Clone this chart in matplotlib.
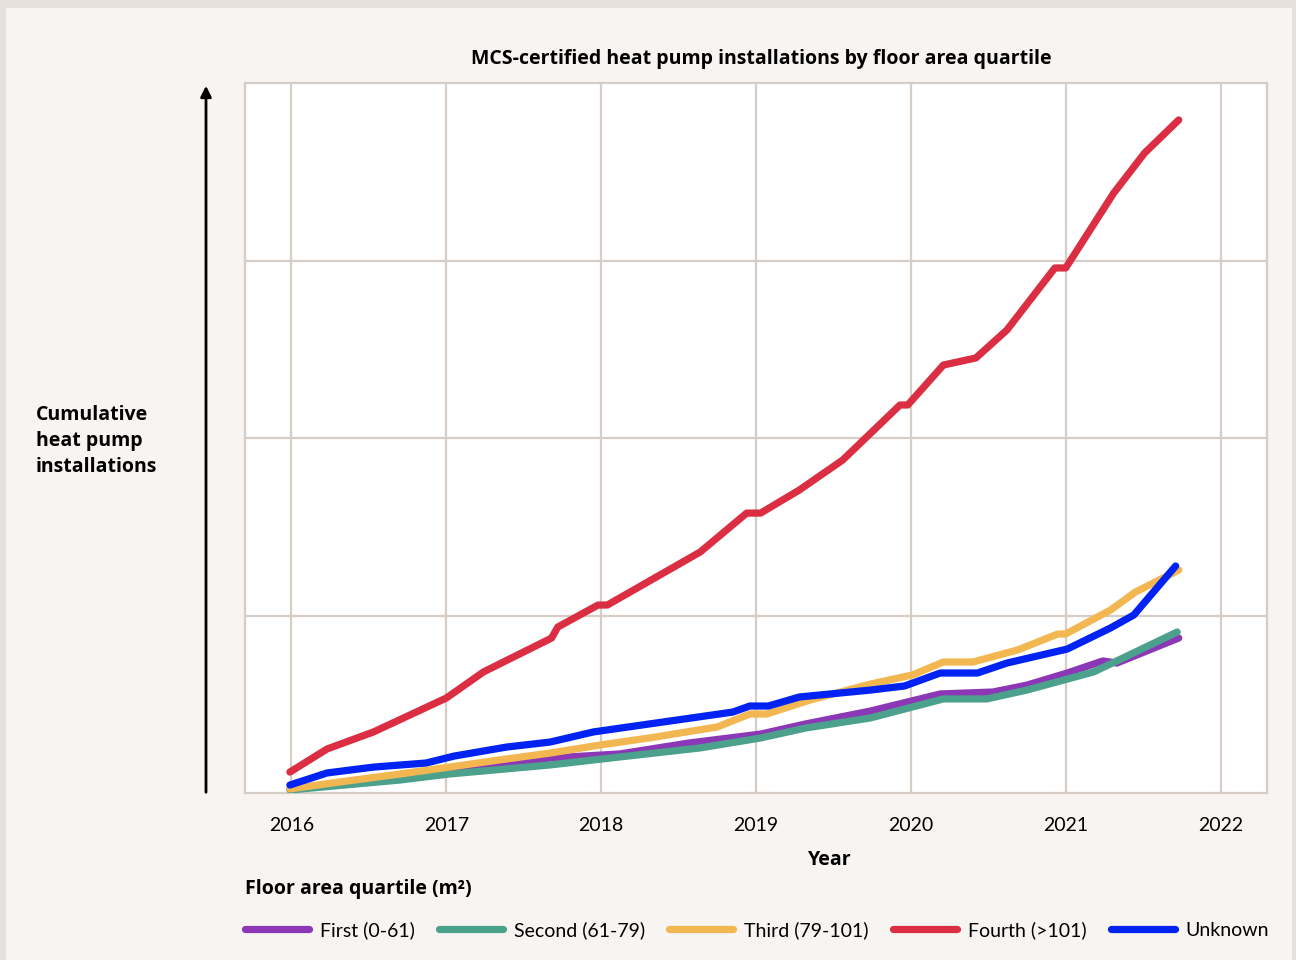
import matplotlib
matplotlib.use("Agg")
import matplotlib.pyplot as plt
from matplotlib.patches import Rectangle, FancyArrowPatch

plt.rcParams['font.family'] = ['Lato', 'DejaVu Sans']

# ---------------- data (years, cumulative installations in relative units) ----------------
first_x = [2015.99, 2016.70, 2017.02, 2017.67, 2018.12, 2018.57, 2019.03, 2019.32, 2019.74,
           2020.19, 2020.53, 2020.75, 2021.01, 2021.24, 2021.33, 2021.73]
first_y = [0.023, 0.090, 0.113, 0.197, 0.220, 0.282, 0.332, 0.389, 0.462,
           0.558, 0.569, 0.608, 0.676, 0.744, 0.732, 0.873]

second_x = [2015.99, 2016.70, 2017.02, 2017.67, 2018.12, 2018.64, 2019.03, 2019.32, 2019.74,
            2020.21, 2020.49, 2020.75, 2021.18, 2021.33, 2021.72]
second_y = [0.017, 0.073, 0.107, 0.158, 0.203, 0.254, 0.310, 0.366, 0.423,
            0.530, 0.530, 0.580, 0.682, 0.744, 0.907]

third_x = [2015.99, 2016.31, 2016.70, 2017.02, 2017.34, 2017.67, 2017.99, 2018.31, 2018.75,
           2018.96, 2019.07, 2019.35, 2019.74, 2020.01, 2020.21, 2020.40, 2020.69, 2020.95,
           2021.00, 2021.29, 2021.45, 2021.73]
third_y = [0.023, 0.062, 0.107, 0.146, 0.186, 0.225, 0.270, 0.310, 0.372,
           0.445, 0.445, 0.524, 0.614, 0.665, 0.738, 0.738, 0.806, 0.896,
           0.896, 1.031, 1.132, 1.256]

fourth_x = [2015.99, 2016.23, 2016.53, 2017.00, 2017.24, 2017.68, 2017.72, 2017.98, 2018.04,
            2018.64, 2018.94, 2019.03, 2019.28, 2019.56, 2019.93, 2019.98, 2020.21, 2020.42,
            2020.62, 2020.93, 2021.00, 2021.31, 2021.51, 2021.73]
fourth_y = [0.118, 0.248, 0.344, 0.535, 0.682, 0.873, 0.935, 1.059, 1.059,
            1.358, 1.577, 1.577, 1.707, 1.876, 2.186, 2.186, 2.411, 2.451,
            2.608, 2.958, 2.958, 3.380, 3.606, 3.792]

unknown_x = [2015.99, 2016.23, 2016.53, 2016.87, 2017.05, 2017.39, 2017.67, 2017.95, 2018.85,
             2018.96, 2019.08, 2019.28, 2019.74, 2019.96, 2020.19, 2020.43, 2020.62, 2021.01,
             2021.29, 2021.44, 2021.71]
unknown_y = [0.045, 0.113, 0.146, 0.169, 0.208, 0.259, 0.287, 0.344, 0.456,
             0.490, 0.490, 0.541, 0.580, 0.603, 0.676, 0.676, 0.732, 0.811,
             0.930, 1.003, 1.279]

labels = ["First (0-61)", "Second (61-79)", "Third (79-101)", "Fourth (>101)", "Unknown"]
colors = ["#8b37b6", "#4ca18d", "#f3b752", "#db2e43", "#0022f2"]
year_ticks = [2016, 2017, 2018, 2019, 2020, 2021, 2022]

# ---------------- figure ----------------
W, H = 1296, 960
fig = plt.figure(figsize=(W / 100, H / 100), dpi=100)
fig.patch.set_facecolor("#e6e1dc")
fig.add_artist(Rectangle((6 / W, 0), (1292 - 6) / W, (960 - 8) / H,
                         transform=fig.transFigure, facecolor="#f7f4f2",
                         edgecolor="none", zorder=0))

ax = fig.add_axes([245 / W, 1 - 793 / H, (1267 - 245) / W, (793 - 83) / H])
ax.set_facecolor("white")
ax.set_zorder(1)

grid_c = "#d5cdc6"
series = [(second_x, second_y, 1), (first_x, first_y, 0), (third_x, third_y, 2),
          (fourth_x, fourth_y, 3), (unknown_x, unknown_y, 4)]
handles = {}
for xs, ys, i in series:
    ln, = ax.plot(xs, ys, color=colors[i], lw=5.2, solid_capstyle="round",
                  solid_joinstyle="round", label=labels[i], zorder=3 + i * 0.1)
    handles[i] = ln

ax.set_xlim(2015.70, 2022.30)
ax.set_ylim(0, 4)
ax.set_xticks(year_ticks)
ax.set_xticklabels([str(y) for y in year_ticks], fontsize=14)
ax.set_yticks([1, 2, 3])
ax.set_yticklabels([])
ax.tick_params(axis="both", length=0, pad=17)
ax.grid(True, color=grid_c, lw=1.6)
ax.set_axisbelow(True)
for s in ax.spines.values():
    s.set_color(grid_c)
    s.set_linewidth(1.6)

# arrow for y axis
fig.add_artist(FancyArrowPatch(
    (206 / W, 1 - 795 / H), (206 / W, 1 - 83 / H), transform=fig.transFigure,
    arrowstyle="-|>", mutation_scale=16, lw=2, color="black"))

# texts
bold_font = dict(family=['Open Sans', 'DejaVu Sans'], fontweight="bold")
fig.text(761 / W, 1 - 59 / H, "MCS-certified heat pump installations by floor area quartile",
         ha="center", va="center", fontsize=14, **bold_font)
fig.text(36 / W, 1 - 441 / H, "Cumulative\nheat pump\ninstallations", ha="left", va="center",
         fontsize=14, linespacing=1.4, **bold_font)
fig.text(830 / W, 1 - 860 / H, "Year", ha="center", va="center", fontsize=14, **bold_font)
fig.text(245 / W, 1 - 889 / H, "Floor area quartile (m²)", ha="left", va="center",
         fontsize=14, **bold_font)

leg = fig.legend([handles[i] for i in range(5)], labels, ncol=5, frameon=False,
                 loc="center left", bbox_to_anchor=(245 / W, 1 - 930 / H),
                 fontsize=14, handlelength=3.3, handletextpad=0.55, columnspacing=1.25,
                 borderpad=0, borderaxespad=0)

fig.savefig("out.png", dpi=100, facecolor=fig.get_facecolor())
